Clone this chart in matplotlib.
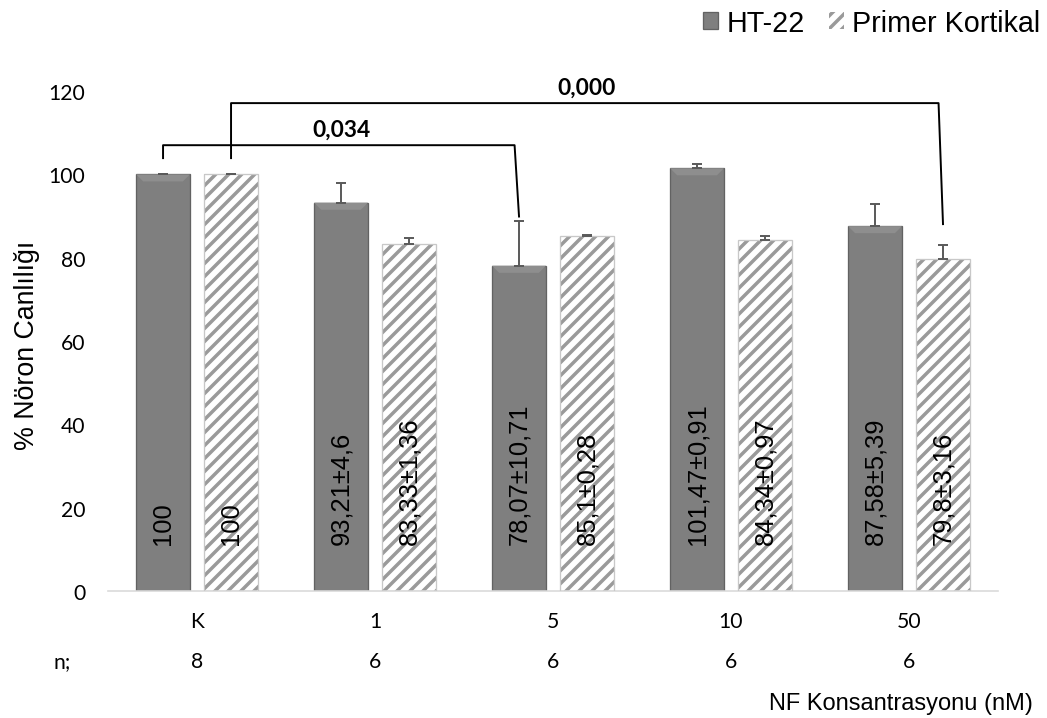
import numpy as np
import matplotlib.pyplot as plt
from matplotlib.patches import Polygon

# veriler
groups = ['K', '1', '5', '10', '50']
n_values = [8, 6, 6, 6, 6]
ht22_mean = [100, 93.21, 78.07, 101.47, 87.58]
ht22_sd = [0, 4.6, 10.71, 0.91, 5.39]
pk_mean = [100, 83.33, 85.1, 84.34, 79.8]
pk_sd = [0, 1.36, 0.28, 0.97, 3.16]
ht22_labels = ['100', '93,21±4,6', '78,07±10,71', '101,47±0,91', '87,58±5,39']
pk_labels = ['100', '83,33±1,36', '85,1±0,28', '84,34±0,97', '79,8±3,16']
y_ticks = [0, 20, 40, 60, 80, 100, 120]

arial = 'Liberation Sans'
calibri = 'Lato'

plt.rcParams['hatch.linewidth'] = 3.2
plt.rcParams['font.family'] = arial

DPI = 78
fig = plt.figure(figsize=(1047 / DPI, 719 / DPI), dpi=DPI)
ax = fig.add_axes([0.1032, 0.1766, 0.850, 0.6954])

x = np.arange(len(groups))
w = 0.303
off = 0.191
x_ht = x - off
x_pk = x + off

# HT-22: düz gri sütunlar
ax.bar(x_ht, ht22_mean, w, color='#7f7f7f', edgecolor='#626262', linewidth=1.2,
       label='HT-22', zorder=2)
# üstte hafif açık kenar (kabartma etkisi)
dx, dy = 0.04, 1.7
for xc, h in zip(x_ht, ht22_mean):
    ax.add_patch(Polygon([(xc - w / 2, h), (xc + w / 2, h),
                          (xc + w / 2 - dx, h - dy), (xc - w / 2 + dx, h - dy)],
                         closed=True, facecolor='#8e8e8e', edgecolor='none', zorder=3))

# Primer Kortikal: taralı sütunlar
ax.bar(x_pk, pk_mean, w, color='white', edgecolor='#9a9a9a', linewidth=0,
       hatch='//', label='Primer Kortikal', zorder=2)
ax.bar(x_pk, pk_mean, w, fill=False, edgecolor='#c8c8c8', linewidth=1.2, zorder=3)

# hata çubukları (yalnız üst yön)
ax.errorbar(x_ht, ht22_mean, yerr=[np.zeros(len(groups)), ht22_sd], fmt='none',
            ecolor='#5a5a5a', elinewidth=1.8, capsize=5, capthick=1.8, zorder=4)
ax.errorbar(x_pk, pk_mean, yerr=[np.zeros(len(groups)), pk_sd], fmt='none',
            ecolor='#5a5a5a', elinewidth=1.8, capsize=5, capthick=1.8, zorder=4)

# sütun içi değer etiketleri
for xc, lab in zip(x_ht, ht22_labels):
    ax.text(xc, 11.3, lab, rotation=90, ha='center', va='bottom', fontsize=23.5,
            color='black', zorder=5)
for xc, lab in zip(x_pk, pk_labels):
    ax.text(xc, 11.3, lab, rotation=90, ha='center', va='bottom', fontsize=23.5,
            color='black', zorder=5)

# anlamlılık çizgileri
def bracket(x0, x1, y_low, y_line, y_end, text):
    ax.plot([x0, x0, x1 - 0.025, x1], [y_low, y_line, y_line, y_end],
            color='black', lw=1.8, clip_on=False, zorder=6)
    ax.text((x0 + x1) / 2, y_line + 1.2, text, ha='center', va='bottom',
            fontsize=21, fontweight='bold', family=calibri)

bracket(x_ht[0], x_ht[2], 103.9, 107.0, ht22_mean[2] + ht22_sd[2] + 1.1, '0,034')
bracket(x_pk[0], x_pk[4], 103.9, 117.1, pk_mean[4] + pk_sd[4] + 5.1, '0,000')

# eksenler
ax.set_xlim(-0.5, len(groups) - 0.5)
ax.set_ylim(0, 120)
ax.set_yticks(y_ticks)
ax.set_xticks(x)
ax.set_xticklabels(groups)
for lab in ax.get_xticklabels() + ax.get_yticklabels():
    lab.set_family(calibri)
    lab.set_fontsize(19.5)
ax.tick_params(axis='both', length=0)
ax.tick_params(axis='x', pad=18)
ax.tick_params(axis='y', pad=21)
for s in ['top', 'right', 'left']:
    ax.spines[s].set_visible(False)
ax.spines['bottom'].set_color('#d9d9d9')
ax.spines['bottom'].set_linewidth(1.5)

# n satırı
ax.text(62 / 1047, 1 - 662 / 719, 'n;', transform=fig.transFigure, ha='center',
        va='center', fontsize=19.5, family=calibri)
for xc, n in zip(x, n_values):
    ax.text(xc, -0.14, str(n), transform=ax.get_xaxis_transform(), ha='center',
            va='center', fontsize=19.5, family=calibri)

fig.text(27 / 1047, 1 - 345 / 719, '% Nöron Canlılığı', rotation=90, ha='center',
         va='center', fontsize=24.7)
fig.text(1033 / 1047, 1 - 704 / 719, 'NF Konsantrasyonu (nM)', ha='right',
         va='center', fontsize=21.8)

fig.legend(loc='center right', bbox_to_anchor=(1040 / 1047, 1 - 24 / 719), ncol=2,
           frameon=False, fontsize=26.5, handlelength=0.52, handleheight=0.52,
           handletextpad=0.28, columnspacing=0.84, borderpad=0, borderaxespad=0)

fig.savefig('out.png', dpi=DPI)
